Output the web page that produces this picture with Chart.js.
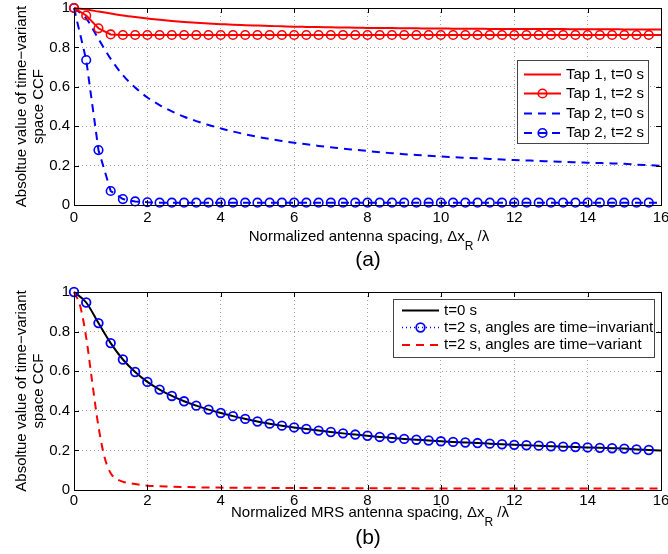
<!DOCTYPE html>
<html>
<head>
<meta charset="utf-8">
<script src="https://cdn.jsdelivr.net/npm/chart.js@4.4.0/dist/chart.umd.min.js"></script>
<style>
body { margin: 0; background: #fff; }
#wrap { position: relative; width: 668px; height: 554px; font-family: "Liberation Sans", Arial, sans-serif; color: #000; }
canvas { position: absolute; left: 0; }
.cap { position: absolute; white-space: nowrap; transform: translateX(-50%); }
.xt { font-size: 15px; line-height: 15px; }
.sub { font-size: 12px; position: relative; top: 9px; }
.pl { font-size: 21px; line-height: 21px; }
</style>
</head>
<body>
<div id="wrap">
  <canvas id="top" width="668" height="277" style="top:0"></canvas>
  <canvas id="bottom" width="668" height="277" style="top:277px"></canvas>
  <div class="cap xt" style="left:369px;top:228px">Normalized antenna spacing, Δx<span class="sub">R</span> /λ</div>
  <div class="cap pl" style="left:368px;top:248px">(a)</div>
  <div class="cap xt" style="left:370px;top:504px">Normalized MRS antenna spacing, Δx<span class="sub">R</span> /λ</div>
  <div class="cap pl" style="left:368px;top:526px">(b)</div>
</div>
<script>
// normalized antenna spacing, sampled every 1/3
var spacing = [0, 0.333, 0.667, 1, 1.333, 1.667, 2, 2.333, 2.667, 3, 3.333, 3.667, 4, 4.333, 4.667, 5,
  5.333, 5.667, 6, 6.333, 6.667, 7, 7.333, 7.667, 8, 8.333, 8.667, 9, 9.333, 9.667, 10, 10.333, 10.667,
  11, 11.333, 11.667, 12, 12.333, 12.667, 13, 13.333, 13.667, 14, 14.333, 14.667, 15, 15.333, 15.667, 16]

// (a) tap 1
var tap1T0 = [1, 0.992, 0.982, 0.972, 0.962, 0.954, 0.947, 0.94, 0.934, 0.929, 0.925, 0.921, 0.918, 0.915,
  0.913, 0.911, 0.909, 0.907, 0.905, 0.904, 0.903, 0.902, 0.901, 0.9, 0.899, 0.898, 0.898, 0.897, 0.897,
  0.896, 0.896, 0.895, 0.895, 0.895, 0.894, 0.894, 0.894, 0.893, 0.893, 0.893, 0.893, 0.892, 0.892, 0.892,
  0.892, 0.891, 0.891, 0.891, 0.891]
var tap1T2 = [1, 0.962, 0.897, 0.866, 0.863, 0.863, 0.863, 0.863, 0.863, 0.863, 0.863, 0.863, 0.863, 0.863,
  0.863, 0.863, 0.863, 0.863, 0.863, 0.863, 0.863, 0.863, 0.863, 0.863, 0.863, 0.863, 0.863, 0.863, 0.863,
  0.863, 0.863, 0.863, 0.863, 0.863, 0.863, 0.863, 0.863, 0.863, 0.863, 0.863, 0.863, 0.863, 0.863, 0.863,
  0.863, 0.863, 0.863, 0.863, 0.863]

// (a) tap 2 at t=0, also the t=0 curve of (b)
var tap2T0 = [1, 0.947, 0.843, 0.742, 0.659, 0.596, 0.546, 0.507, 0.475, 0.448, 0.426, 0.406, 0.389, 0.373,
  0.359, 0.346, 0.335, 0.325, 0.316, 0.308, 0.3, 0.293, 0.286, 0.28, 0.274, 0.268, 0.263, 0.258, 0.254,
  0.25, 0.246, 0.243, 0.24, 0.237, 0.234, 0.231, 0.228, 0.226, 0.224, 0.221, 0.219, 0.217, 0.215, 0.213,
  0.211, 0.209, 0.205, 0.202, 0.199]
var tap2T2 = [1, 0.736, 0.279, 0.071, 0.03, 0.018, 0.014, 0.012, 0.012, 0.012, 0.012, 0.012, 0.012, 0.012,
  0.012, 0.012, 0.012, 0.012, 0.012, 0.012, 0.012, 0.012, 0.012, 0.012, 0.012, 0.012, 0.012, 0.012, 0.012,
  0.012, 0.012, 0.012, 0.012, 0.012, 0.012, 0.012, 0.012, 0.012, 0.012, 0.012, 0.012, 0.012, 0.012, 0.012,
  0.012, 0.012, 0.012, 0.012, 0.012]

// (b) t=2 s with time-variant angles (finer sampling near the drop)
var varSpacing = [0, 0.167, 0.333, 0.5, 0.667, 0.833, 1, 1.167, 1.333, 1.5, 1.667, 2, 2.5, 3, 4, 5, 6, 8, 10, 12, 14, 16]
var varT2 = [1, 0.93, 0.77, 0.54, 0.32, 0.165, 0.085, 0.055, 0.042, 0.035, 0.03, 0.022, 0.018, 0.015, 0.012,
  0.011, 0.01, 0.009, 0.008, 0.008, 0.007, 0.007]

var xTicks = [0, 2, 4, 6, 8, 10, 12, 14, 16]
var yTicks = [0, 0.2, 0.4, 0.6, 0.8, 1]

var RED = '#ff0000', BLUE = '#0000ff', BLACK = '#000000'
var FONT = 'Liberation Sans'
Chart.defaults.font.family = FONT
Chart.defaults.color = '#000'

function pts(xs, ys){
    return xs.map(function(x, i){ return {x: x, y: ys[i]} })
}

// markers on every sample but the last one (x=16)
function markerRadius(c){
    return c.dataIndex < spacing.length - 1 ? 4.3 : 0
}

// box, inward ticks and legend, MATLAB style
var framePlugin = {
    id: 'frame',
    afterDatasetsDraw: function(chart, args, o){
        var ctx = chart.ctx, a = chart.chartArea
        var xs = chart.scales.x, ys = chart.scales.y
        ctx.save()
        ctx.strokeStyle = '#000'
        ctx.lineWidth = 1
        ctx.setLineDash([])
        ctx.beginPath()
        xTicks.forEach(function(v){
            var p = Math.round(xs.getPixelForValue(v)) + 0.5
            ctx.moveTo(p, a.bottom); ctx.lineTo(p, a.bottom - 5)
            ctx.moveTo(p, a.top); ctx.lineTo(p, a.top + 5)
        })
        yTicks.forEach(function(v){
            var p = Math.round(ys.getPixelForValue(v)) + 0.5
            ctx.moveTo(a.left, p); ctx.lineTo(a.left + 5, p)
            ctx.moveTo(a.right, p); ctx.lineTo(a.right - 5, p)
        })
        ctx.stroke()
        ctx.strokeRect(Math.round(a.left) + 0.5, Math.round(a.top) + 0.5, Math.round(a.right - a.left), Math.round(a.bottom - a.top))

        // legend
        var L = o.box
        ctx.fillStyle = '#fff'
        ctx.fillRect(L[0], L[1], L[2] - L[0], L[3] - L[1])
        ctx.strokeStyle = '#444'
        ctx.strokeRect(L[0] + 0.5, L[1] + 0.5, L[2] - L[0], L[3] - L[1])
        ctx.font = '15px "' + FONT + '"'
        ctx.textBaseline = 'middle'
        ctx.textAlign = 'left'
        chart.data.datasets.forEach(function(ds, i){
            var y = o.rows[i]
            ctx.strokeStyle = ds.borderColor
            ctx.lineWidth = ds.borderWidth
            ctx.setLineDash(ds.legendDash || ds.borderDash || [])
            ctx.beginPath()
            ctx.moveTo(o.sample[0], y); ctx.lineTo(o.sample[1], y)
            ctx.stroke()
            if (ds.marker){
                var m = (o.sample[0] + o.sample[1]) / 2
                ctx.setLineDash([])
                ctx.lineWidth = ds.pointBorderWidth
                ctx.beginPath()
                ctx.arc(m, y, 4.3, 0, Math.PI * 2)
                ctx.stroke()
            }
            ctx.fillStyle = '#000'
            ctx.fillText(ds.label, o.textX, y)
        })
        ctx.restore()
    }
}

function makeOptions(padTop, xHeight, tickPad, legend){
    return {
        responsive: false,
        animation: false,
        layout: { padding: { top: padTop, right: 7, bottom: 0, left: 0 } },
        plugins: { legend: { display: false }, tooltip: { enabled: false }, frame: legend },
        scales: {
            x: {
                type: 'linear', min: 0, max: 16,
                afterFit: function(s){ s.height = xHeight; s.paddingLeft = 0; s.paddingRight = 0 },
                afterBuildTicks: function(s){ s.ticks = xTicks.map(function(v){ return {value: v} }) },
                ticks: { font: { size: 15 }, padding: tickPad, maxRotation: 0, autoSkip: false },
                grid: { color: '#a0a0a0', lineWidth: 1, drawTicks: false },
                border: { display: false, dash: [1, 3] }
            },
            y: {
                min: 0, max: 1,
                afterFit: function(s){ s.width = 74; s.paddingTop = 0; s.paddingBottom = 0 },
                afterBuildTicks: function(s){ s.ticks = yTicks.map(function(v){ return {value: v} }) },
                ticks: { font: { size: 15 }, padding: 4, callback: function(v){ return String(v) } },
                grid: { color: '#a0a0a0', lineWidth: 1, drawTicks: false },
                border: { display: false, dash: [1, 3] },
                title: {
                    display: true,
                    text: ['Absoltue value of time\u2212variant', 'space CCF'],
                    font: { size: 15, lineHeight: 17 / 15 },
                    padding: { top: 13, bottom: 0 }
                }
            }
        }
    }
}

// (a)
new Chart(document.getElementById('top').getContext('2d'), {
    type: 'line',
    data: {
        datasets: [{
            label: 'Tap 1, t=0 s',
            data: pts(spacing, tap1T0),
            borderColor: RED, borderWidth: 2, pointRadius: 0,
            cubicInterpolationMode: 'monotone', clip: false
        }, {
            label: 'Tap 1, t=2 s',
            data: pts(spacing, tap1T2),
            borderColor: RED, borderWidth: 2, marker: true,
            pointRadius: markerRadius, pointBorderWidth: 1.6, pointBorderColor: RED,
            pointBackgroundColor: 'rgba(0,0,0,0)', clip: false
        }, {
            label: 'Tap 2, t=0 s',
            data: pts(spacing, tap2T0),
            borderColor: BLUE, borderWidth: 2, borderDash: [8, 6], pointRadius: 0,
            cubicInterpolationMode: 'monotone', clip: false
        }, {
            label: 'Tap 2, t=2 s',
            data: pts(spacing, tap2T2),
            borderColor: BLUE, borderWidth: 2, borderDash: [8, 6], marker: true,
            pointRadius: markerRadius, pointBorderWidth: 1.6, pointBorderColor: BLUE,
            pointBackgroundColor: 'rgba(0,0,0,0)', clip: false
        }]
    },
    options: makeOptions(8, 72, 4, {
        box: [517, 60, 648, 143],
        rows: [74.5, 93.5, 113.5, 133],
        sample: [524, 561],
        textX: 566
    }),
    plugins: [framePlugin]
})

// (b)
new Chart(document.getElementById('bottom').getContext('2d'), {
    type: 'line',
    data: {
        datasets: [{
            label: 't=0 s',
            data: pts(spacing, tap2T0),
            borderColor: BLACK, borderWidth: 2, pointRadius: 0,
            cubicInterpolationMode: 'monotone', clip: false, order: 2
        }, {
            label: 't=2 s, angles are time\u2212invariant',
            data: pts(spacing, tap2T0),
            borderColor: BLUE, borderWidth: 1.5, borderDash: [1, 3], marker: true, showLine: false,
            pointRadius: markerRadius, pointBorderWidth: 1.8, pointBorderColor: BLUE,
            pointBackgroundColor: 'rgba(0,0,0,0)', clip: false, order: 0
        }, {
            label: 't=2 s, angles are time\u2212variant',
            data: pts(varSpacing, varT2),
            borderColor: RED, borderWidth: 2, borderDash: [8, 6], pointRadius: 0,
            cubicInterpolationMode: 'monotone', clip: false, order: 1
        }]
    },
    options: makeOptions(15, 64, 2, {
        box: [393, 22, 654, 80],
        rows: [33.5, 50.5, 68],
        sample: [402, 439],
        textX: 444
    }),
    plugins: [framePlugin]
})
</script>
</body>
</html>
